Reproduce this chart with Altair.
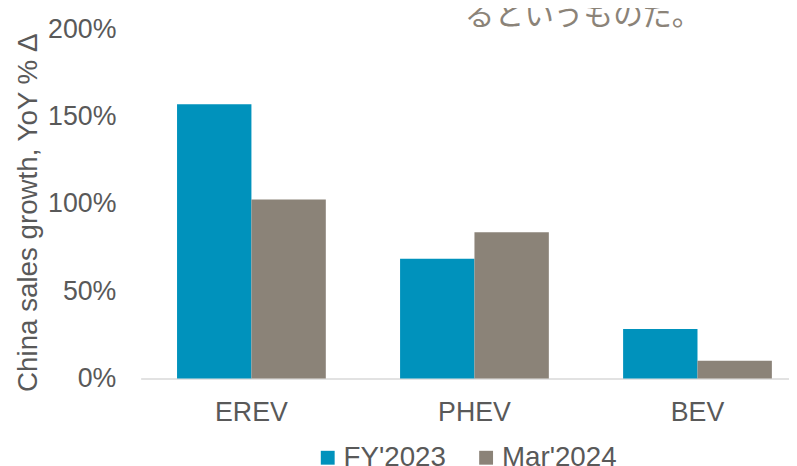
import altair as alt
import pandas as pd

categories = ["EREV", "PHEV", "BEV"]
series = ["FY'2023", "Mar'2024"]
fy2023 = [1.57, 0.685, 0.283]
mar2024 = [1.025, 0.838, 0.102]
y_ticks = [0, 0.5, 1.0, 1.5, 2.0]
note_text = "るというものだ。"

rows = []
for c, a, b in zip(categories, fy2023, mar2024):
    rows.append({"cat": c, "series": series[0], "value": a})
    rows.append({"cat": c, "series": series[1], "value": b})
df = pd.DataFrame(rows)

FONT = "Liberation Sans"
LABEL = "#595959"

bars = alt.Chart(df).mark_bar().encode(
    x=alt.X("cat:N", sort=categories,
            scale=alt.Scale(paddingInner=0.333, paddingOuter=0.12, align=0.68),
            axis=alt.Axis(title=None, labelFontSize=27, labelColor=LABEL, labelFont=FONT,
                          labelPadding=21, ticks=False, domainColor="#d9d9d9",
                          domainWidth=1.5, labelAngle=0)),
    xOffset=alt.XOffset("series:N", sort=series),
    y=alt.Y("value:Q", scale=alt.Scale(domain=[0, 2.0], nice=False),
            axis=alt.Axis(values=y_ticks, format=".0%", title="China sales growth, YoY % Δ",
                          labelFontSize=27, labelColor=LABEL, labelFont=FONT,
                          titleFontSize=28, titleColor=LABEL, titleFont=FONT,
                          titleFontWeight="normal", titlePadding=5, titleY=185,
                          labelPadding=25, ticks=False, domain=False, grid=False)),
    color=alt.Color("series:N", sort=series,
                    scale=alt.Scale(domain=series, range=["#0092BC", "#8B8378"]),
                    legend=alt.Legend(title=None, orient="none", legendX=175, legendY=419,
                                      direction="horizontal", symbolType="square",
                                      symbolSize=196, symbolStrokeWidth=0,
                                      labelFontSize=28, labelColor=LABEL, labelFont=FONT,
                                      labelOffset=2, columnPadding=26)),
)

note = alt.Chart(pd.DataFrame({"t": [note_text]})).mark_text(
    fontSize=30, color="#8B8378", font="Noto Sans CJK JP", align="center", baseline="middle"
).encode(x=alt.value(447), y=alt.value(-13), text="t:N")

chart = alt.layer(bars, note).properties(
    width=655, height=353,
    autosize=alt.AutoSizeParams(type="none"),
    padding={"left": 134, "top": 19, "right": 0, "bottom": 86},
).configure_view(stroke=None)

chart.save("out.html", embed_options={"renderer": "svg", "actions": False})
